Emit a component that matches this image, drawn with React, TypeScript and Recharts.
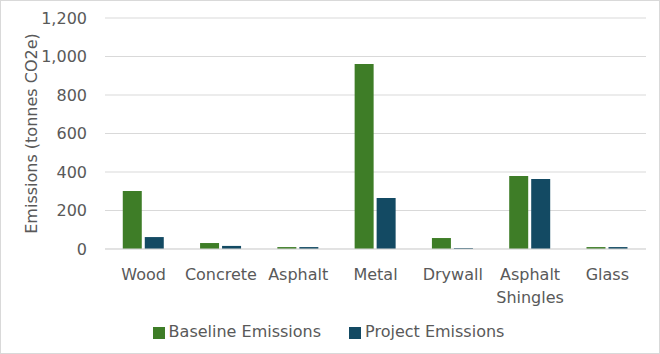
import { BarChart, Bar, XAxis, YAxis, CartesianGrid, Legend } from "recharts";

const categories = ["Wood", "Concrete", "Asphalt", "Metal", "Drywall", "Asphalt Shingles", "Glass"];
const baseline = [301, 31, 10, 961, 57, 379, 10];
const project = [62, 16, 10, 265, 5, 364, 10];
const yTicks = [0, 200, 400, 600, 800, 1000, 1200];

const data = categories.map((category, i) => ({
  category,
  baseline: baseline[i],
  project: project[i],
}));

const COLORS = {
  baseline: "#3E7D27",
  project: "#134A63",
  text: "#595959",
  grid: "#D9D9D9",
};

const FONT = "'DejaVu Sans', sans-serif";

// category label, wraps multi-word names onto separate lines
const CategoryTick = ({ x, y, payload }: any) => {
  const words = String(payload.value).split(" ");
  return (
    <text x={x} y={y} textAnchor="middle" fill={COLORS.text} fontSize={16} fontFamily={FONT}>
      {words.map((w, i) => (
        <tspan key={i} x={x} dy={23}>
          {w}
        </tspan>
      ))}
    </text>
  );
};

export default function App() {
  return (
    <div
      style={{
        position: "absolute",
        left: 0,
        top: 0,
        width: 660,
        height: 354,
        boxSizing: "border-box",
        border: "1px solid #D9D9D9",
        background: "#fff",
        fontFamily: FONT,
      }}
    >
      <BarChart
        width={658}
        height={352}
        data={data}
        margin={{ top: 17, right: 13, bottom: 12, left: 0 }}
        barCategoryGap="23%"
        barGap={3}
      >
        <CartesianGrid vertical={false} stroke={COLORS.grid} />
        <XAxis
          dataKey="category"
          tick={<CategoryTick />}
          tickLine={false}
          axisLine={{ stroke: COLORS.grid }}
          interval={0}
          height={62}
        />
        <YAxis
          domain={[0, 1200]}
          ticks={yTicks}
          tickFormatter={(v) => v.toLocaleString("en-US")}
          tick={{ fill: COLORS.text, fontSize: 16, fontFamily: FONT }}
          tickLine={false}
          axisLine={false}
          width={104}
          tickMargin={12}
          label={{
            value: "Emissions (tonnes CO2e)",
            angle: -90,
            position: "insideLeft",
            offset: 30,
            style: { textAnchor: "middle", fill: COLORS.text, fontSize: 16, fontFamily: FONT },
          }}
        />
        <Legend
          iconType="square"
          iconSize={12}
          wrapperStyle={{ fontSize: 16, color: COLORS.text, fontFamily: FONT, paddingTop: 11, left: 10 }}
          formatter={(value, _entry, index) => (
            <span style={{ color: COLORS.text, paddingRight: index === 0 ? 18 : 0 }}>{value}</span>
          )}
        />
        <Bar dataKey="baseline" name="Baseline Emissions" fill={COLORS.baseline} isAnimationActive={false} />
        <Bar dataKey="project" name="Project Emissions" fill={COLORS.project} isAnimationActive={false} />
      </BarChart>
    </div>
  );
}
